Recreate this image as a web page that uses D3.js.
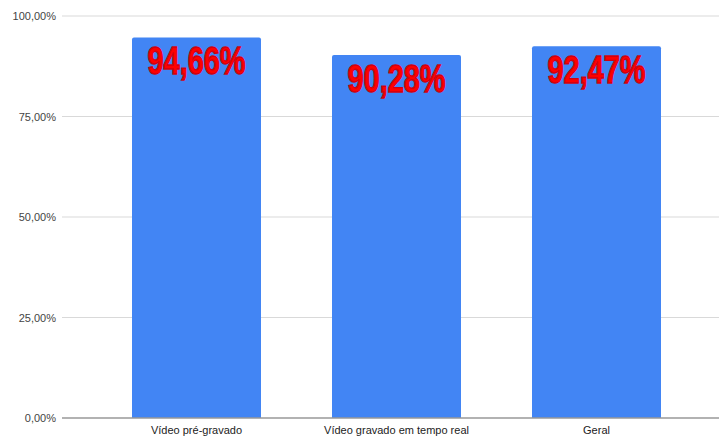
<!DOCTYPE html>
<html><head><meta charset="utf-8">
<script src="https://cdn.jsdelivr.net/npm/d3@7"></script>
<style>body{margin:0;background:#fff}svg{display:block}</style>
</head><body>
<svg id="c" width="719" height="437"></svg>
<script>
const categories = ["Vídeo pré-gravado", "Vídeo gravado em tempo real", "Geral"];
const values = [94.66, 90.28, 92.47];
const tickValues = [0, 25, 50, 75, 100];
const tickLabels = ["0,00%", "25,00%", "50,00%", "75,00%", "100,00%"];
const valueLabels = ["94,66%", "90,28%", "92,47%"];

const svg = d3.select("#c");
const x = d3.scaleBand().domain(categories).range([96.5, 696.5]).paddingInner(0.355).paddingOuter(0.1775);
const y = d3.scaleLinear().domain([0, 100]).range([418, 16]);

// grid
svg.append("g").selectAll("line").data(tickValues.filter(d => d > 0)).join("line")
  .attr("x1", 62).attr("x2", 719).attr("y1", d => y(d)).attr("y2", d => y(d))
  .attr("stroke", "#d9d9d9").attr("stroke-width", 1.2);

// y axis labels
const yAxis = d3.axisLeft(y).tickValues(tickValues).tickSize(0).tickPadding(0)
  .tickFormat((d, i) => tickLabels[i]);
const ya = svg.append("g").attr("transform", "translate(56,0)").call(yAxis);
ya.select(".domain").remove();
ya.selectAll("text").attr("font-family", "Liberation Sans, Arial, sans-serif").attr("font-size", 11).attr("fill", "#444");

// bars
svg.append("g").selectAll("path").data(values).join("path")
  .attr("d", (d, i) => {
    const x0 = x(categories[i]), w = x.bandwidth(), y0 = y(d), y1 = y(0), r = 2;
    return `M${x0},${y1}V${y0 + r}Q${x0},${y0} ${x0 + r},${y0}H${x0 + w - r}Q${x0 + w},${y0} ${x0 + w},${y0 + r}V${y1}Z`;
  })
  .attr("fill", "#4285f4");

// baseline
svg.append("line").attr("x1", 62).attr("x2", 719).attr("y1", y(0)).attr("y2", y(0))
  .attr("stroke", "#999").attr("stroke-width", 1.5);

// x axis labels
const xAxis = d3.axisBottom(x).tickSize(0).tickPadding(8);
const xa = svg.append("g").attr("transform", `translate(0,${y(0)})`).call(xAxis);
xa.select(".domain").remove();
xa.selectAll("text").attr("font-family", "Liberation Sans, Arial, sans-serif").attr("font-size", 11).attr("fill", "#222");

// value labels (condensed via horizontal scale)
svg.append("g").selectAll("text").data(values).join("text")
  .attr("transform", (d, i) => `translate(${x(categories[i]) + x.bandwidth() / 2},${y(d) + 37}) scale(0.76,1)`)
  .attr("text-anchor", "middle")
  .attr("font-family", "Liberation Sans, Arial, sans-serif")
  .attr("font-weight", "bold")
  .attr("font-size", 38)
  .attr("fill", "#ff0000")
  .attr("stroke", "#d00010").attr("stroke-width", 1.4)
  .text((d, i) => valueLabels[i]);
</script>
</body></html>
